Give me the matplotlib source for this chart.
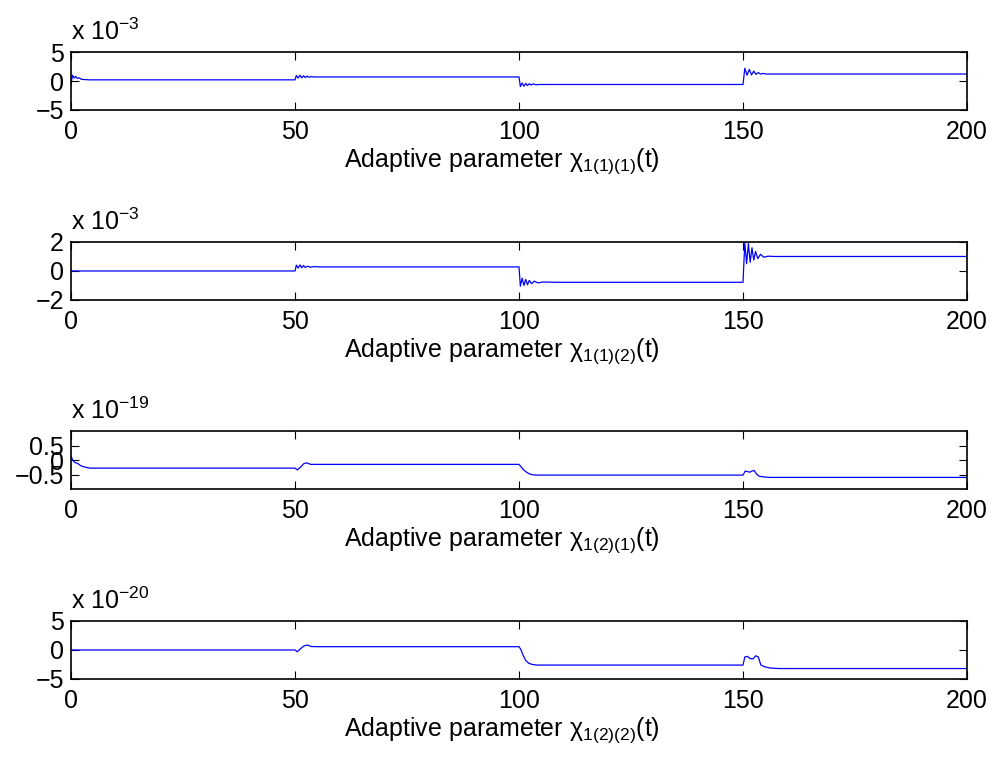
import matplotlib
matplotlib.use('Agg')
import matplotlib.pyplot as plt
import numpy as np

plt.rcParams['font.family'] = ['Liberation Sans', 'DejaVu Sans']
plt.rcParams['mathtext.fontset'] = 'custom'
plt.rcParams['mathtext.rm'] = 'Liberation Sans'
plt.rcParams['mathtext.it'] = 'Liberation Sans'

# hand-read samples of each curve (time, value)
t1 = [0, 0.3, 0.7, 1.0, 1.4, 1.8, 2.3, 3, 4, 50, 50.3, 50.7, 51.1, 51.5, 51.9, 52.3, 52.7, 53.1, 53.6, 54.2, 55.5,
      100, 100.3, 100.7, 101.1, 101.5, 101.9, 102.3, 102.7, 103.2, 103.8, 104.6, 106,
      150, 150.4, 150.9, 151.4, 151.9, 152.4, 152.9, 153.4, 153.9, 154.5, 155.2, 156.5, 200]
v1 = [-0.7e-3, 1.0e-3, 0.5e-3, 0.8e-3, 0.45e-3, 0.55e-3, 0.3e-3, 0.25e-3, 0.2e-3, 0.2e-3, 0.95e-3, 0.5e-3, 1.0e-3,
      0.55e-3, 0.9e-3, 0.6e-3, 0.85e-3, 0.65e-3, 0.75e-3, 0.7e-3, 0.7e-3,
      0.7e-3, -0.95e-3, -0.35e-3, -0.9e-3, -0.4e-3, -0.8e-3, -0.45e-3, -0.7e-3, -0.5e-3, -0.65e-3, -0.6e-3, -0.6e-3,
      -0.6e-3, 2.2e-3, 1.0e-3, 2.0e-3, 1.05e-3, 1.7e-3, 1.15e-3, 1.45e-3, 1.2e-3, 1.3e-3, 1.2e-3, 1.2e-3, 1.2e-3]

t2 = [0, 50, 50.3, 50.7, 51.1, 51.5, 51.9, 52.3, 52.8, 53.4, 54.2, 55.5,
      100, 100.3, 100.7, 101.1, 101.5, 101.9, 102.3, 102.8, 103.4, 104.2, 105.5, 108,
      150, 150.4, 150.8, 151.2, 151.6, 152.0, 152.4, 152.8, 153.3, 153.9, 154.6, 155.6, 157, 200]
v2 = [0, 0, 0.4e-3, 0.2e-3, 0.42e-3, 0.22e-3, 0.38e-3, 0.24e-3, 0.33e-3, 0.26e-3, 0.3e-3, 0.28e-3,
      0.28e-3, -1.05e-3, -0.5e-3, -1.0e-3, -0.58e-3, -0.95e-3, -0.65e-3, -0.88e-3, -0.7e-3, -0.82e-3, -0.76e-3, -0.78e-3,
      -0.78e-3, 1.95e-3, 0.5e-3, 1.9e-3, 0.6e-3, 1.6e-3, 0.75e-3, 1.35e-3, 0.85e-3, 1.15e-3, 0.95e-3, 1.02e-3, 1.0e-3, 1.0e-3]

t3 = [0, 0.3, 0.8, 1.5, 2.2, 3, 4.2, 6, 50, 50.5, 51.2, 52, 52.6, 53.5, 55,
      100, 100.4, 100.9, 101.5, 102.2, 103, 104, 106,
      150, 150.5, 151, 151.5, 152, 152.5, 153, 153.6, 154.5, 156, 158, 200]
v3 = [0.15e-19, 0.02e-19, -0.08e-19, -0.12e-19, -0.2e-19, -0.24e-19, -0.28e-19, -0.28e-19, -0.28e-19, -0.34e-19,
      -0.25e-19, -0.12e-19, -0.1e-19, -0.15e-19, -0.15e-19,
      -0.15e-19, -0.22e-19, -0.32e-19, -0.4e-19, -0.47e-19, -0.51e-19, -0.52e-19, -0.52e-19,
      -0.52e-19, -0.38e-19, -0.4e-19, -0.42e-19, -0.38e-19, -0.36e-19, -0.48e-19, -0.56e-19, -0.58e-19, -0.6e-19,
      -0.6e-19, -0.6e-19]

t4 = [0, 50, 50.5, 51.2, 52, 52.8, 53.6, 55,
      100, 100.4, 100.9, 101.5, 102.2, 103, 104, 106,
      150, 150.4, 151, 151.6, 152.3, 152.8, 153.4, 154, 154.8, 156, 158, 200]
v4 = [0, 0, -0.3e-20, 0.2e-20, 0.7e-20, 0.85e-20, 0.6e-20, 0.57e-20,
      0.57e-20, 0.1e-20, -0.9e-20, -1.8e-20, -2.3e-20, -2.5e-20, -2.6e-20, -2.6e-20,
      -2.6e-20, -1.2e-20, -1.1e-20, -1.5e-20, -1.5e-20, -1.0e-20, -1.2e-20, -2.6e-20, -2.9e-20, -3.1e-20,
      -3.2e-20, -3.2e-20]

series = [(t1, v1), (t2, v2), (t3, v3), (t4, v4)]
scales = [1e-3, 1e-3, 1e-19, 1e-20]
exps = ['3', '3', '19', '20']
ylims = [(-5, 5), (-2, 2), (-1, 1), (-5, 5)]
yticks = [[-5, 0, 5], [-2, 0, 2], [-0.5, 0, 0.5], [-5, 0, 5]]
ytlabels = [['\u22125', '0', '5'], ['\u22122', '0', '2'], ['\u22120.5', '0', '0.5'], ['\u22125', '0', '5']]
xlabels = ['1(1)(1)', '1(1)(2)', '1(2)(1)', '1(2)(2)']
xticks = [0, 50, 100, 150, 200]

fig = plt.figure(figsize=(9.96, 7.66), dpi=100)
bottoms = [0.8564, 0.6084, 0.3616, 0.1136]
for i in range(4):
    ax = fig.add_axes([0.0713, bottoms[i], 0.8996, 0.0757])
    t, v = series[i]
    ax.plot(t, np.array(v) / scales[i], color='#0000ff', lw=0.9)
    ax.set_xlim(0, 200)
    ax.set_ylim(*ylims[i])
    ax.set_xticks(xticks)
    ax.set_xticklabels([str(x) for x in xticks])
    ax.set_yticks(yticks[i])
    ax.set_yticklabels(ytlabels[i])
    ax.tick_params(direction='in', length=6, width=0.8, top=True, right=True, labelsize=18)
    ax.tick_params(axis='x', pad=7)
    ax.tick_params(axis='y', pad=5)
    for s in ax.spines.values():
        s.set_linewidth(1.2)
    ax.set_xlabel('Adaptive parameter \u03c7$_{\\mathregular{' + xlabels[i] + '}}$(t)', fontsize=18)
    ax.xaxis.set_label_coords(0.481, -0.62)
    ax.text(0, 1.2, 'x 10$^{\\mathregular{\u2212' + exps[i] + '}}$', transform=ax.transAxes,
            fontsize=18, ha='left', va='baseline')

fig.savefig('out.png', dpi=100)
